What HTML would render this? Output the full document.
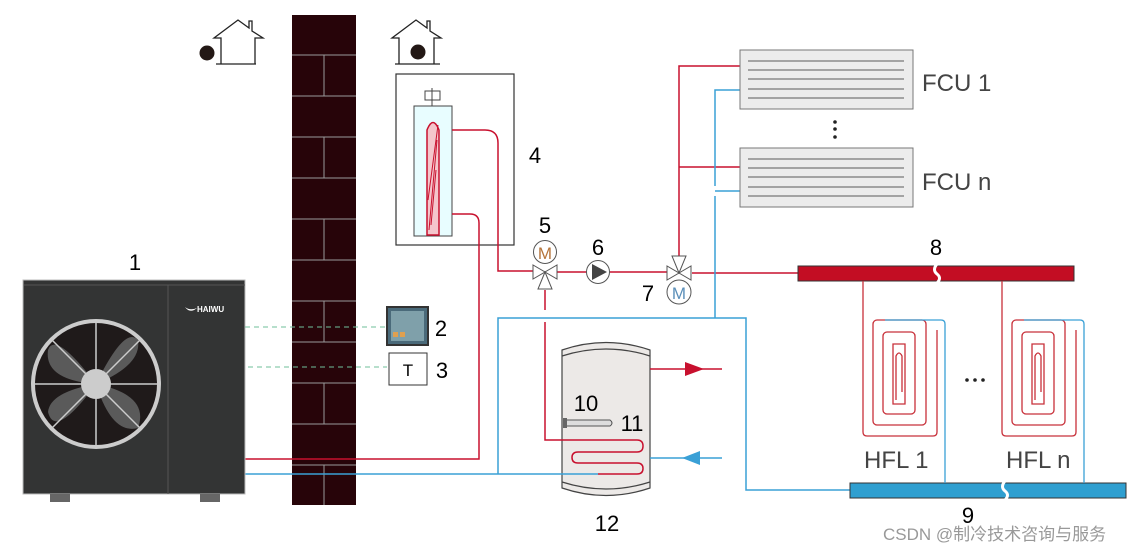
<!DOCTYPE html>
<html><head><meta charset="utf-8"><style>
html,body{margin:0;padding:0;background:#fff;width:1147px;height:552px;overflow:hidden}
svg text{font-family:"Liberation Sans","Noto Sans CJK SC",sans-serif}
</style></head><body>
<svg width="1147" height="552" viewBox="0 0 1147 552" xmlns="http://www.w3.org/2000/svg">
<!-- wall -->
<rect x="292" y="15" width="64" height="490" fill="#270409"/>
<g stroke="#9a9a9a" stroke-width="1">
<line x1="292" y1="55" x2="356" y2="55"/><line x1="292" y1="96" x2="356" y2="96"/>
<line x1="292" y1="137" x2="356" y2="137"/><line x1="292" y1="178" x2="356" y2="178"/>
<line x1="292" y1="219" x2="356" y2="219"/><line x1="292" y1="260" x2="356" y2="260"/>
<line x1="292" y1="301" x2="356" y2="301"/><line x1="292" y1="342" x2="356" y2="342"/>
<line x1="292" y1="383" x2="356" y2="383"/><line x1="292" y1="424" x2="356" y2="424"/>
<line x1="292" y1="465" x2="356" y2="465"/>
<line x1="324" y1="55" x2="324" y2="96"/><line x1="324" y1="137" x2="324" y2="178"/>
<line x1="324" y1="219" x2="324" y2="260"/><line x1="324" y1="301" x2="324" y2="342"/>
<line x1="324" y1="383" x2="324" y2="424"/><line x1="324" y1="465" x2="324" y2="505"/>
</g>
<!-- houses -->
<g fill="none" stroke="#222" stroke-width="1.3">
<path d="M216 64 L256 64 M221 64 L221 38 L214 38 L238 20 L249 28 L249 21 L252 21 L252 31 L263 38 L255 38 L255 64"/>
<path d="M395 64 L440 64 M399 64 L399 38 L392 38 L416 20 L427 28 L427 21 L430 21 L430 31 L441 38 L434 38 L434 64"/>
</g>
<circle cx="207" cy="53" r="7.5" fill="#231815"/>
<circle cx="418" cy="52" r="7.5" fill="#231815"/>
<!-- box 4 -->
<rect x="396" y="74" width="118" height="171" fill="#fff" stroke="#333" stroke-width="1.2"/>
<rect x="414" y="106" width="38" height="130" fill="#e8fdff" stroke="#444" stroke-width="1"/>
<rect x="425" y="91" width="15" height="9" fill="#fff" stroke="#444"/>
<line x1="432" y1="88" x2="432" y2="106" stroke="#444"/>
<path d="M427 235 L427 130 Q433 115 439 130 L439 235 Z" fill="#f4c6cc" stroke="#c8102e" stroke-width="1.5"/>
<path d="M429 230 L437 140 M431 225 L436 170 M428 200 L438 125" stroke="#c8102e" stroke-width="1"/>
<!-- tank (drawn before coil) -->
<path d="M562 350 Q606 335 650 350 L650 488 Q606 503 562 488 Z" fill="#ece9e7" stroke="#444" stroke-width="1.2"/>
<path d="M562 356 Q606 342 650 356 M562 482 Q606 496 650 482" fill="none" stroke="#444" stroke-width="1.2"/>
<!-- red pipes -->
<g fill="none" stroke="#c8102e" stroke-width="1.5">
<path d="M452 130 L485 130 Q498 130 498 143 L498 271 L533 271"/>
<path d="M452 214 L470 214 Q479 214 479 223 L479 459 L245 459"/>
<path d="M557 272 L588 272 M610 272 L667 272 M692 273 L798 273"/>
<path d="M545 290 L545 310 M545 322 L545 440 L637 440 Q643 440 643 446 Q643 452 637 452 L578 452 Q572 452 572 457.5 Q572 463 578 463 L637 463 Q643 463 643 468.5 Q643 474 637 474 L598 474"/>
<path d="M679 256 L679 66 L740 66 M679 167 L740 167"/>
<path d="M650 369 L722 369"/>
</g>
<polygon points="685,362 685,376 704,369" fill="#c8102e"/>
<!-- blue pipes -->
<g fill="none" stroke="#3aa0d6" stroke-width="1.5">
<path d="M598 474 L245 474"/>
<path d="M498 474 L498 318 L746 318 L746 490 L850 490"/>
<path d="M715 318 L715 196 M715 186 L715 90 L740 90 M715 191 L740 191"/>
<path d="M650 458 L722 458"/>
</g>
<polygon points="700,451 700,465 682,458" fill="#3aa0d6"/>
<!-- sensor -->
<path d="M566 420 L610 420 Q614 423 610 426 L566 426 Z" fill="#ddd" stroke="#555" stroke-width="1"/>
<rect x="563" y="418" width="4" height="10" fill="#666"/>
<!-- valves -->
<g stroke="#555" stroke-width="1" fill="#fff">
<circle cx="545" cy="252" r="11.5"/>
<polygon points="533,265 533,279 545,272"/><polygon points="557,265 557,279 545,272"/>
<polygon points="538,289 552,289 545,272"/>
<circle cx="679" cy="292" r="12"/>
<polygon points="667,266 667,280 679,273"/><polygon points="691,266 691,280 679,273"/>
<polygon points="672,256 686,256 679,273"/>
<circle cx="598" cy="272" r="11.5" fill="#fff"/>
</g>
<polygon points="592,264 592,280 607,272" fill="#444"/>
<text x="545" y="259" font-size="17" fill="#b5743a" text-anchor="middle">M</text>
<text x="679" y="299" font-size="17" fill="#5b8fb9" text-anchor="middle">M</text>
<!-- heat pump -->
<rect x="23" y="280" width="222" height="214" fill="#333434" stroke="#bbb" stroke-width="1"/>
<line x1="24" y1="285" x2="245" y2="285" stroke="#555"/>
<line x1="168" y1="285" x2="168" y2="494" stroke="#555"/>
<rect x="50" y="494" width="20" height="8" fill="#666"/><rect x="200" y="494" width="20" height="8" fill="#666"/>
<circle cx="96" cy="384" r="63" fill="#1f1a1a" stroke="#ccc" stroke-width="4"/>
<g fill="#5a5a5a">
<path d="M96 384 Q55 330 48 350 Q44 380 96 384Z"/>
<path d="M96 384 Q125 325 138 340 Q142 365 96 384Z"/>
<path d="M96 384 Q150 395 138 428 Q112 435 96 384Z"/>
<path d="M96 384 Q55 440 48 412 Q50 392 96 384Z"/>
</g>
<g stroke="#ccc" stroke-width="1.5"><line x1="33" y1="384" x2="159" y2="384"/><line x1="96" y1="321" x2="96" y2="447"/><line x1="52" y1="340" x2="140" y2="428"/><line x1="140" y1="340" x2="52" y2="428"/></g>
<circle cx="96" cy="384" r="15" fill="#ccc"/>
<text x="197" y="312" font-size="8" font-weight="bold" fill="#fff" font-family="Liberation Serif">HAIWU</text>
<path d="M185 307 Q190 314 197 308 Q190 311 185 307Z" fill="#fff"/>
<!-- dashed -->
<g stroke="#6fbf9a" stroke-width="1" stroke-dasharray="5,4"><line x1="245" y1="327" x2="387" y2="327"/><line x1="248" y1="367" x2="387" y2="367"/></g>
<rect x="387" y="307" width="41" height="38" fill="#4a6a7a" stroke="#333" stroke-width="2"/>
<rect x="391" y="311" width="33" height="30" fill="#7fa0aa"/>
<rect x="393" y="332" width="5" height="5" fill="#e0a050"/><rect x="400" y="332" width="5" height="5" fill="#e0a050"/>
<rect x="389" y="353" width="38" height="32" fill="#fff" stroke="#333"/>
<text x="408" y="376" font-size="17" text-anchor="middle" fill="#000">T</text>
<!-- FCUs -->
<g><rect x="740" y="50" width="173" height="59" fill="#ececec" stroke="#777"/>
<rect x="740" y="148" width="173" height="59" fill="#ececec" stroke="#777"/>
<g stroke="#777" stroke-width="1.3">
<line x1="748" y1="61" x2="904" y2="61"/><line x1="748" y1="70" x2="904" y2="70"/><line x1="748" y1="79" x2="904" y2="79"/><line x1="748" y1="89" x2="904" y2="89"/><line x1="748" y1="98" x2="904" y2="98"/>
<line x1="748" y1="159" x2="904" y2="159"/><line x1="748" y1="168" x2="904" y2="168"/><line x1="748" y1="177" x2="904" y2="177"/><line x1="748" y1="187" x2="904" y2="187"/><line x1="748" y1="196" x2="904" y2="196"/></g></g>
<g fill="#222"><circle cx="835" cy="122" r="1.8"/><circle cx="835" cy="129" r="1.8"/><circle cx="835" cy="137" r="1.8"/>
<circle cx="967" cy="380" r="1.8"/><circle cx="975" cy="380" r="1.8"/><circle cx="983" cy="380" r="1.8"/></g>
<!-- manifolds -->
<rect x="798" y="266" width="276" height="15" fill="#c30d23" stroke="#333"/>
<rect x="850" y="483" width="276" height="15" fill="#2f9fd0" stroke="#333"/>
<path d="M937 264 Q932 270 937 274 Q942 278 937 283" stroke="#fff" stroke-width="3" fill="none"/>
<path d="M1005 481 Q1000 487 1005 491 Q1010 495 1005 500" stroke="#fff" stroke-width="3" fill="none"/>
<!-- floor loops -->
<g fill="none" stroke-width="1.3">
<g stroke="#c8303a">
<path d="M863 281 L863 432 Q863 436 867 436 L933 436 Q937 436 937 432"/>
<path d="M937 432 L937 330" />
<rect x="873" y="320" width="53" height="105" rx="4"/>
<rect x="883" y="332" width="32" height="82" rx="4"/>
<path d="M893 344 L905 344 L905 404 L893 404 Z" />
<path d="M896 400 L896 356 Q899 350 902 356 L902 392"/>
<path d="M1002 281 L1002 432 Q1002 436 1006 436 L1072 436 Q1076 436 1076 432 L1076 330"/>
<rect x="1012" y="320" width="53" height="105" rx="4"/>
<rect x="1022" y="332" width="32" height="82" rx="4"/>
<path d="M1032 344 L1044 344 L1044 404 L1032 404 Z"/>
<path d="M1035 400 L1035 356 Q1038 350 1041 356 L1041 392"/>
</g>
<path d="M885 320 L941 320 Q945 320 945 324 L945 483" stroke="#3aa0d6"/>
<path d="M1024 320 L1080 320 Q1084 320 1084 324 L1084 483" stroke="#3aa0d6"/>
</g>
<!-- labels -->
<g font-size="22" fill="#000" text-anchor="middle">
<text x="135" y="270">1</text><text x="441" y="336">2</text><text x="442" y="378">3</text>
<text x="535" y="163">4</text><text x="545" y="233">5</text><text x="598" y="255">6</text>
<text x="648" y="301">7</text><text x="936" y="255">8</text><text x="968" y="523">9</text>
<text x="586" y="411">10</text><text x="632" y="431">11</text><text x="607" y="531">12</text>
</g>
<g font-size="24" fill="#444">
<text x="922" y="91">FCU 1</text><text x="922" y="190">FCU n</text>
<text x="864" y="468">HFL 1</text><text x="1006" y="468">HFL n</text>
</g>
<text x="883" y="540" font-size="17" fill="#999">CSDN @制冷技术咨询与服务</text>
</svg>
</body></html>
